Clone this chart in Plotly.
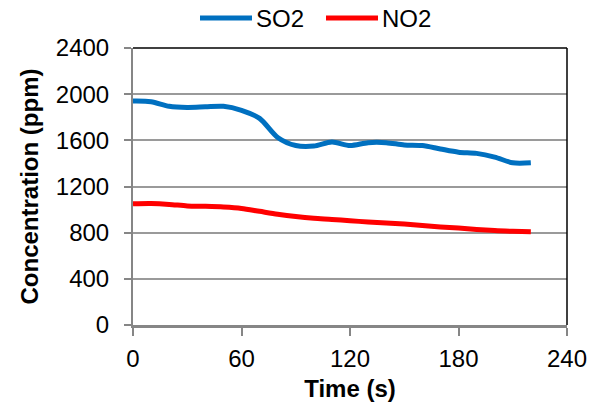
import plotly.graph_objects as go

time_s = [0, 10, 20, 30, 40, 50, 60, 70, 80, 90, 100, 110, 120, 130, 140, 150, 160, 170, 180, 190, 200, 210, 220]
so2 = [1940, 1935, 1895, 1885, 1890, 1895, 1860, 1790, 1625, 1555, 1550, 1585, 1555, 1580, 1580, 1560, 1555, 1525, 1497, 1487, 1455, 1405, 1405]
no2 = [1050, 1052, 1045, 1032, 1028, 1022, 1010, 985, 960, 940, 925, 915, 903, 893, 884, 875, 863, 850, 840, 828, 818, 812, 808]
series_names = ["SO2", "NO2"]
series_colors = ["#0070C0", "#FF0000"]
x_ticks = [0, 60, 120, 180, 240]
y_ticks = [0, 400, 800, 1200, 1600, 2000, 2400]

FONT = "Liberation Sans, Arial, sans-serif"

fig = go.Figure()
for name, vals, col in zip(series_names, [so2, no2], series_colors):
    fig.add_trace(go.Scatter(x=time_s, y=vals, mode="lines", name=name,
                             line=dict(color=col, width=5, shape="spline", smoothing=0.8),
                             showlegend=False))

fig.update_layout(
    width=596, height=402,
    margin=dict(l=133, r=29, t=48, b=77),
    paper_bgcolor="white", plot_bgcolor="white",
    font=dict(family=FONT, size=24, color="black"),
    xaxis=dict(range=[0, 240], tickvals=x_ticks, ticks="outside", ticklen=8, tickwidth=1.5,
               tickcolor="#868686", showline=True, linecolor="#868686", linewidth=2.5,
               showgrid=False, zeroline=False, tickfont=dict(size=24), ticklabelstandoff=2,
               automargin=False,
               title=dict(text="<b>Time (s)</b>", font=dict(size=24), standoff=13)),
    yaxis=dict(range=[0, 2400], tickvals=y_ticks, ticks="outside", ticklen=7, tickwidth=1.5,
               tickcolor="#868686", showline=True, linecolor="#868686", linewidth=2,
               showgrid=True, gridcolor="#9a9a9a", gridwidth=1.5, zeroline=False,
               tickfont=dict(size=24), ticklabelstandoff=10, automargin=False,
               title=dict(text="<b>Concentration (ppm)</b>", font=dict(size=24), standoff=10)),
)

# plot-area border on top and right
fig.add_shape(type="line", xref="paper", yref="paper", x0=0, x1=1, y0=1, y1=1,
              line=dict(color="black", width=1.5), layer="above")
fig.add_shape(type="line", xref="paper", yref="paper", x0=1, x1=1, y0=0, y1=1,
              line=dict(color="black", width=1.5), layer="above")

# legend drawn at the top
leg_x = [200, 326]
for i, (name, col) in enumerate(zip(series_names, series_colors)):
    x0 = leg_x[i]
    fig.add_shape(type="line", xref="paper", yref="paper",
                  x0=(x0 - 133) / 434, x1=(x0 + 52 - 133) / 434,
                  y0=(325 - 18) / 277, y1=(325 - 18) / 277,
                  line=dict(color=col, width=5))
    fig.add_annotation(xref="paper", yref="paper", x=(x0 + 54 - 133) / 434, y=(325 - 18) / 277,
                       text=name, showarrow=False, xanchor="left", yanchor="middle",
                       font=dict(size=24, color="black"))

fig.write_html("out.html")
